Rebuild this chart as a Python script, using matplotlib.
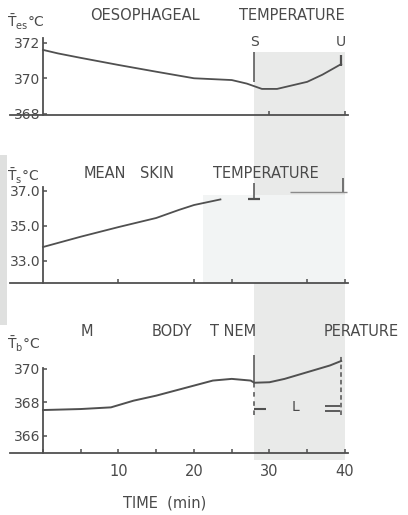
import matplotlib.pyplot as plt
from matplotlib.transforms import blended_transform_factory

# time (min) and temperature (deg C)
t_es = [0, 2, 5, 10, 15, 20, 25, 27, 29, 31, 35, 37, 39.5]
T_es = [37.16, 37.14, 37.115, 37.075, 37.037, 37.0, 36.99, 36.97, 36.94,
        36.94, 36.98, 37.02, 37.08]

t_s = [0, 5, 10, 15, 18, 20, 23.5]
T_s = [33.78, 34.37, 34.92, 35.44, 35.9, 36.18, 36.5]

t_b = [0, 5, 9, 12, 15, 20, 22.5, 25, 27.5, 28, 30, 32, 35, 38, 39.5]
T_b = [36.754, 36.76, 36.77, 36.81, 36.84, 36.90, 36.93, 36.94, 36.93,
       36.917, 36.92, 36.94, 36.98, 37.02, 37.047]

# axis ticks and labels
es_ticks = [36.8, 37.0, 37.2]
es_labels = ["368", "370", "372"]
s_ticks = [33.0, 35.0, 37.0]
s_labels = ["33.0", "35.0", "37.0"]
b_ticks = [36.6, 36.8, 37.0]
b_labels = ["366", "368", "370"]
es_xticks = [30, 40]
s_xticks = [10, 20, 25, 35, 40]
b_xticks = [0, 5, 10, 15, 20, 25, 30, 35, 40]
b_xlabels = ["", "", "10", "", "20", "", "30", "", "40"]

# events: S (start) at 28 min, U at 39.5 min, shaded period 28-40 min
event_t = [28, 39.5]
event_labels = ["S", "U"]
shade_start, shade_end = 28, 40

# title words and their centre (pixels) as laid out on the page
title_es = [(145, "OESOPHAGEAL"), (292, "TEMPERATURE")]
title_s = [(105, "MEAN"), (157, "SKIN"), (266, "TEMPERATURE")]
title_b = [(87, "M"), (172, "BODY"), (233, "T NEM"), (361, "PERATURE")]

INK = "#505050"
TXT = "#4a4a4a"

fig = plt.figure(figsize=(4.08, 5.15), dpi=100)
fig.patch.set_facecolor("white")

H = 515.0
W = 408.0


def make_axes(top_px, bottom_px, ylim):
    ax = fig.add_axes([10 / W, 1 - bottom_px / H, 338 / W, (bottom_px - top_px) / H])
    ax.set_facecolor("none")
    ax.set_xlim(-4.37, 40.4)
    ax.set_ylim(*ylim)
    for side in ["top", "right"]:
        ax.spines[side].set_visible(False)
    ax.spines["left"].set_position(("data", 0))
    for side in ["left", "bottom"]:
        ax.spines[side].set_color(INK)
        ax.spines[side].set_linewidth(1.3)
    ax.tick_params(direction="in", length=3, width=1.1, color=INK,
                   labelcolor=TXT, labelsize=10, pad=2)
    return ax


ax1 = make_axes(38, 115, (36.793, 37.227))
ax2 = make_axes(187, 283, (31.724, 37.21))
ax3 = make_axes(368, 453, (36.4975, 37.005))

# shaded experimental period spanning all panels
tr = blended_transform_factory(ax3.transData, fig.transFigure)
band = plt.Rectangle((shade_start, 1 - 460 / H), shade_end - shade_start,
                     (460 - 52) / H, transform=tr, color="#e9eae9",
                     zorder=-2, lw=0)
fig.patches.append(band)
ax2.fill_between([21.2, shade_end], 31.75, 36.75, color="#f2f4f4",
                 lw=0, zorder=-1)
# scanner shadow at the left edge
shadow = plt.Rectangle((0, 1 - 325 / H), 7 / W, 170 / H,
                       transform=fig.transFigure, color="#dfe0df",
                       zorder=-2, lw=0)
fig.patches.append(shadow)

# --- oesophageal temperature
ax1.plot(t_es, T_es, color=INK, lw=1.3, clip_on=False)
ax1.set_yticks(es_ticks, es_labels)
ax1.set_xticks(es_xticks, ["", ""])
ax1.vlines(event_t[0], 36.979, 37.15, color=INK, lw=1.1)
ax1.vlines(event_t[1], 37.07, 37.13, color=INK, lw=1.6)
for t, lab in zip(event_t, event_labels):
    ax1.text(t, 37.205, lab, ha="center", va="center", fontsize=10, color=TXT)

# --- mean skin temperature
ax2.plot(t_s, T_s, color=INK, lw=1.3)
ax2.set_yticks(s_ticks, s_labels)
ax2.set_xticks(s_xticks, [""] * len(s_xticks))
ax2.vlines(event_t[0], 36.47, 37.44, color=INK, lw=1.1, clip_on=False)
ax2.hlines(36.5, 27.2, 28.8, color=INK, lw=1.6, clip_on=False)
ax2.vlines(event_t[1] + 0.3, 36.9, 37.72, color=INK, lw=1.1, clip_on=False)
ax2.hlines(36.9, 32.7, 40.3, color="#8a8a8a", lw=1.0, clip_on=False)

# --- mean body temperature
ax3.plot(t_b, T_b, color=INK, lw=1.4, clip_on=False)
ax3.set_yticks(b_ticks, b_labels)
ax3.set_xticks(b_xticks, b_xlabels)
ax3.tick_params(axis="x", pad=8, labelsize=10.5)
ax3.vlines(event_t[0], 36.90, 37.08, color=INK, lw=1.1, clip_on=False)
ax3.vlines(event_t[0], 36.725, 36.90, color=INK, lw=1.1, ls=(0, (3, 3)))
ax3.vlines(event_t[1], 36.725, 37.08, color=INK, lw=1.1, ls=(0, (3, 2)),
           clip_on=False)
ax3.hlines(36.763, 28, 29.6, color=INK, lw=1.5)
ax3.hlines([36.75, 36.776], 37.4, 39.3, color=INK, lw=1.3)
ax3.text(33.4, 36.77, "L", ha="center", va="center", fontsize=10, color=TXT)

# panel titles and units
for y_px, words in [(15, title_es), (173, title_s), (332, title_b)]:
    for x_px, word in words:
        fig.text(x_px / W, 1 - y_px / H, word, ha="center", va="center",
                 fontsize=10.5, color=TXT)

unit_kw = dict(ha="left", va="center", fontsize=10, color=TXT)
fig.text(7 / W, 1 - 22 / H, r"$\bar{\mathrm{T}}_{\mathrm{es}}$°C", **unit_kw)
fig.text(7 / W, 1 - 176 / H, r"$\bar{\mathrm{T}}_{\mathrm{s}}$°C", **unit_kw)
fig.text(7 / W, 1 - 344 / H, r"$\bar{\mathrm{T}}_{\mathrm{b}}$°C", **unit_kw)

fig.text(165 / W, 1 - 503 / H, "TIME  (min)", ha="center", va="center",
         fontsize=10.5, color=TXT)

fig.savefig("out.png", dpi=100)
